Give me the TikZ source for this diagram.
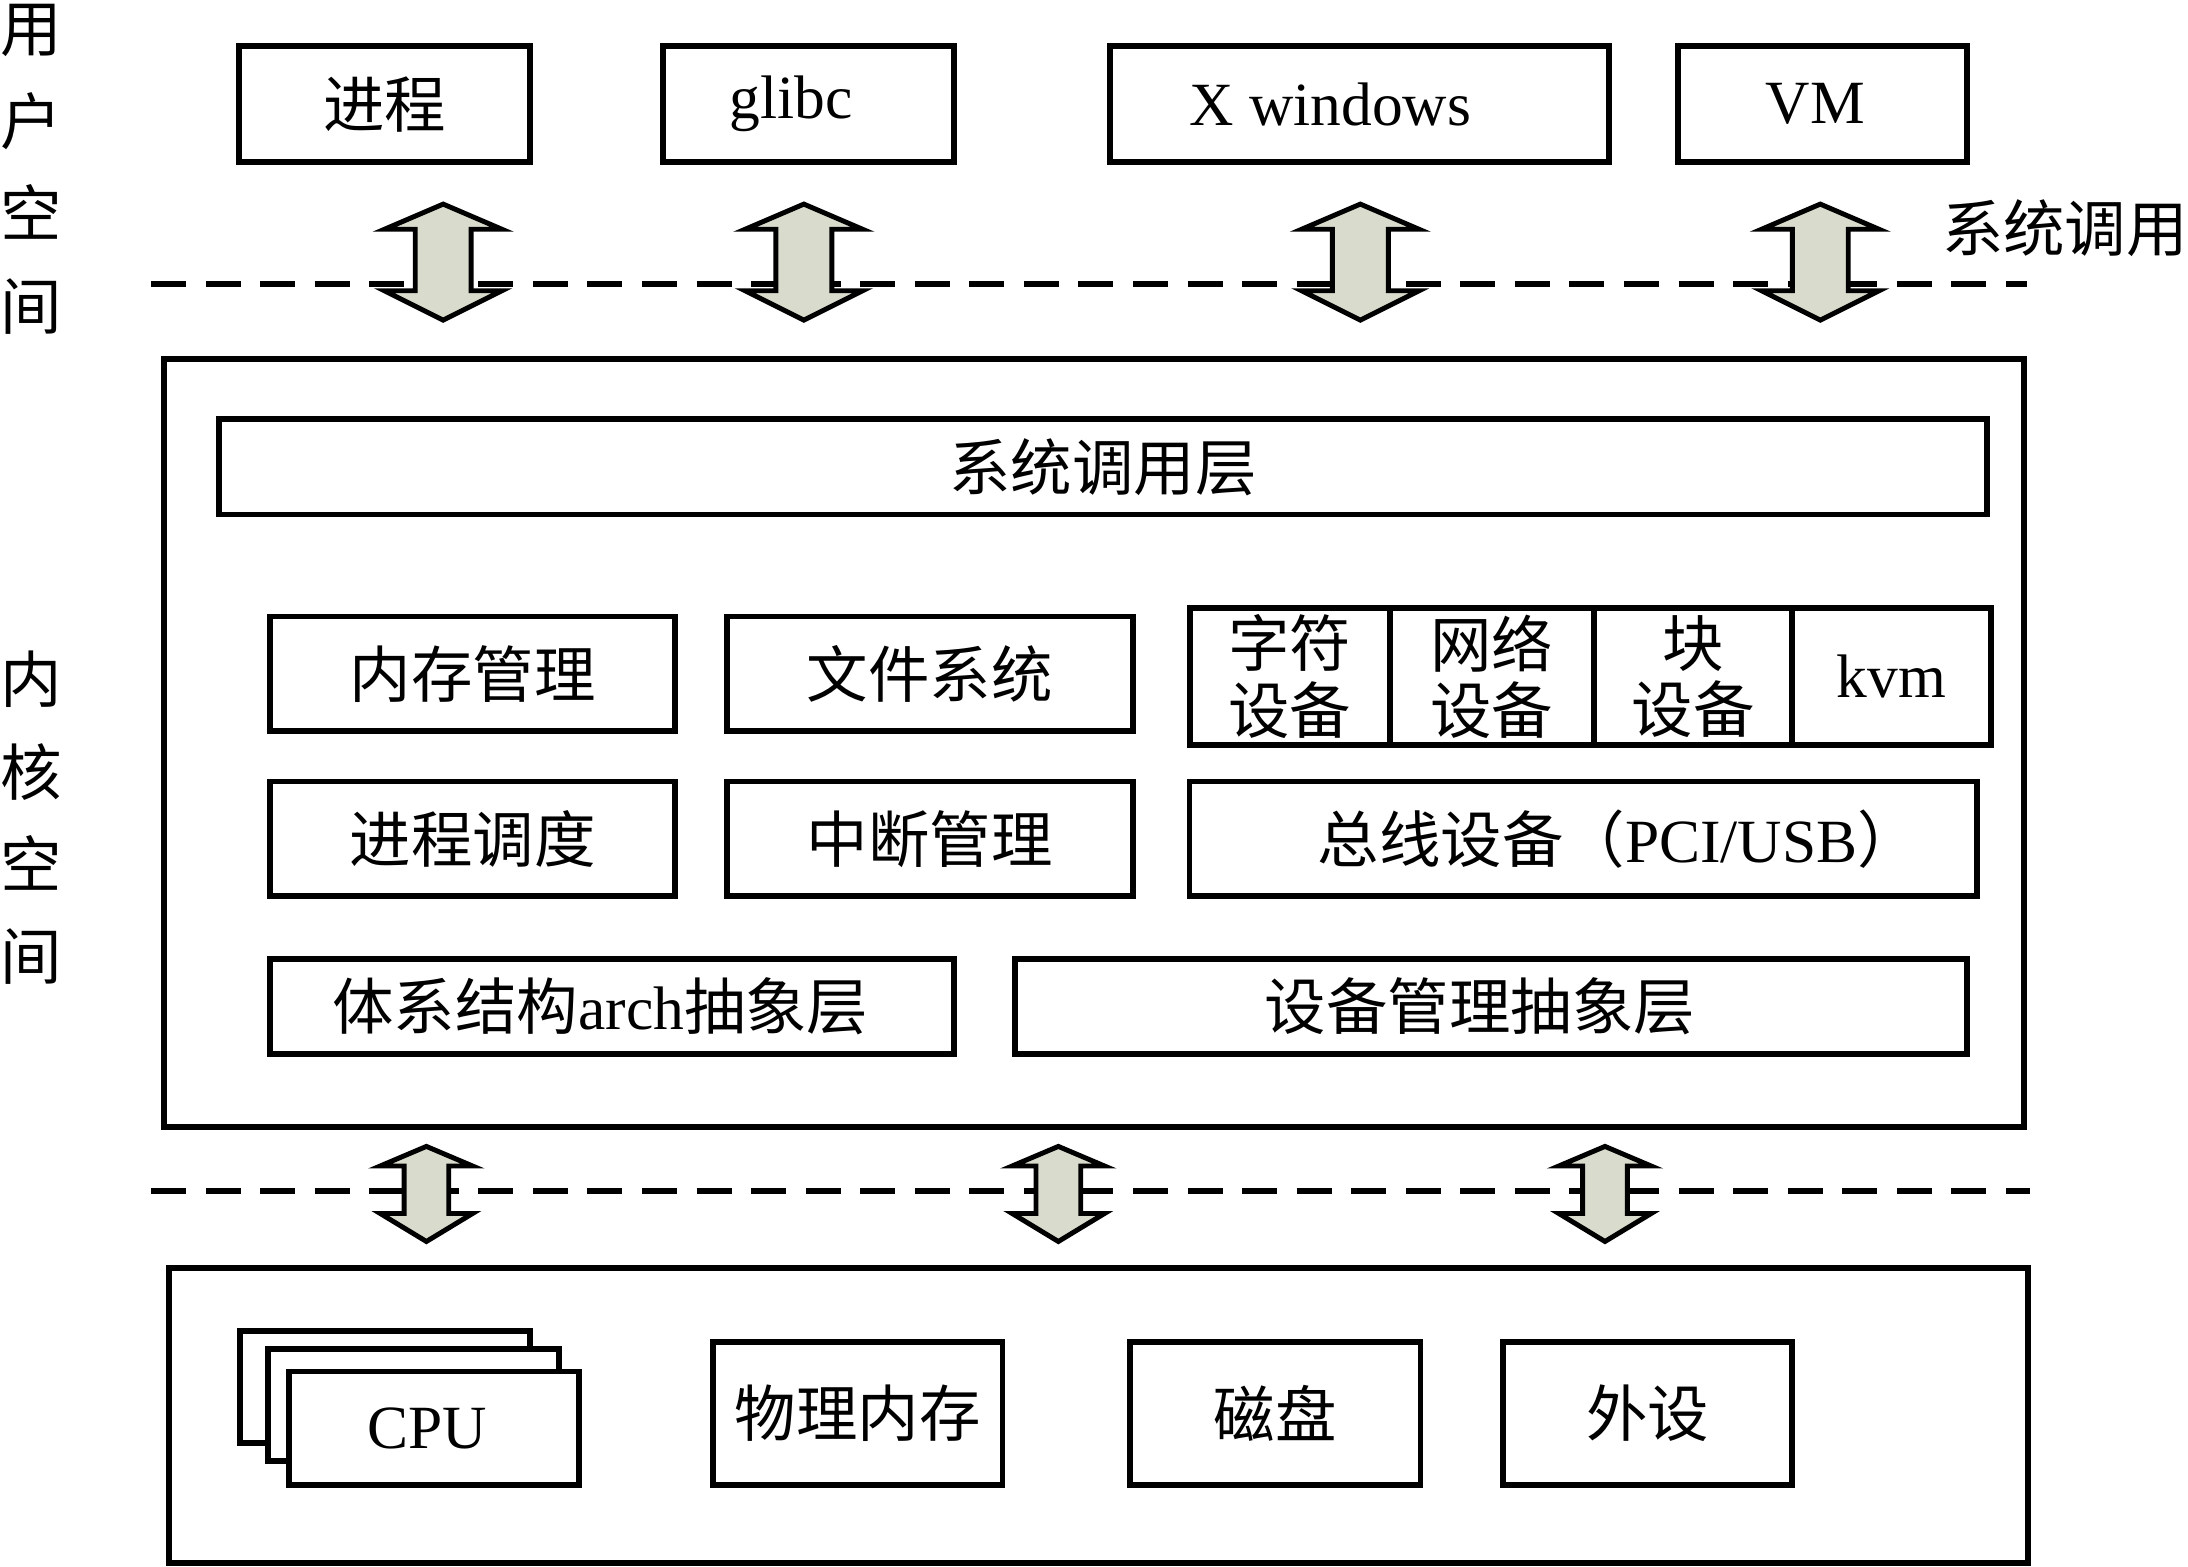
\documentclass[tikz,border=0pt]{standalone}
\usepackage{fontspec}
\setmainfont{Liberation Serif}
\newfontfamily\cjk{Noto Sans CJK SC}
\definecolor{arrowfill}{HTML}{D9DCCC}
% block arrow: x, top, bottom, half head, half shaft, top head, bottom head
\newcommand{\updown}[7]{%
	\draw[line width=1pt, fill=arrowfill, line join=miter] (#1,#2) -- ({#1+#4},{#2+#6}) -- ({#1+#5},{#2+#6}) -- ({#1+#5},{#3-#7}) -- ({#1+#4},{#3-#7}) -- (#1,#3) -- ({#1-#4},{#3-#7}) -- ({#1-#5},{#3-#7}) -- ({#1-#5},{#2+#6}) -- ({#1-#4},{#2+#6}) -- cycle;}
\begin{document}
\begin{tikzpicture}[x=0.01cm, y=-0.01cm,
		box/.style={draw, line width=1.2pt, inner sep=0pt, align=center, font=\fontsize{12.5}{13.5}\selectfont},
		cbox/.style={box, font=\cjk\fontsize{12.5}{13.5}\selectfont},
		sidetext/.style={inner sep=0pt, align=center, font=\cjk\fontsize{12.5}{18.8}\selectfont},
		layerline/.style={line width=1.2pt, dash pattern=on 0.25cm off 0.14cm}]
		\useasboundingbox (0,0) rectangle (1565,1120.8);

		\node[sidetext] (userspace) at (22,121) {用\\户\\空\\间};
		\node[sidetext] (kernelspace) at (22,585) {内\\核\\空\\间};
		\node[sidetext] (sclabel) at (1477,163) {系统调用};

		\node[cbox, minimum width=2.08cm, minimum height=0.83cm] (proc) at (275,74.5) {进程};
		\node[box, minimum width=2.08cm, minimum height=0.83cm] (glibc) at (578,74.5) {glibc\hspace{0.24cm}};
		\node[box, minimum width=3.57cm, minimum height=0.83cm] (xwin) at (972.5,74.5) {X windows\hspace{0.42cm}};
		\node[box, minimum width=2.07cm, minimum height=0.83cm] (vm) at (1303.5,74.5) {VM\hspace{0.1cm}};

		\draw[layerline] (108,203) -- (1450,203);
		\updown{317}{146}{229}{42}{20}{18}{21}
		\updown{575}{146}{229}{42}{20}{18}{21}
		\updown{973}{146}{229}{42}{20}{18}{21}
		\updown{1302}{146}{229}{42}{20}{18}{21}

		\node[box, minimum width=13.29cm, minimum height=5.49cm] (kernel) at (782.5,531.5) {};
		\node[cbox, minimum width=12.64cm, minimum height=0.68cm] (sclayer) at (789,334) {系统调用层};
		\node[cbox, minimum width=2.90cm, minimum height=0.82cm] (mem) at (338,482) {内存管理};
		\node[cbox, minimum width=2.90cm, minimum height=0.82cm] (fs) at (665,482) {文件系统};
		\node[cbox, minimum width=1.43cm, minimum height=0.98cm] (chardev) at (922.5,484) {字符\\设备};
		\node[cbox, minimum width=1.46cm, minimum height=0.98cm] (netdev) at (1067,484) {网络\\设备};
		\node[cbox, minimum width=1.42cm, minimum height=0.98cm] (blkdev) at (1211,484) {块\\设备};
		\node[box, minimum width=1.42cm, minimum height=0.98cm] (kvm) at (1353,484) {kvm};
		\node[cbox, minimum width=2.90cm, minimum height=0.82cm] (sched) at (338,600) {进程调度};
		\node[cbox, minimum width=2.90cm, minimum height=0.82cm] (irq) at (665,600) {中断管理};
		\node[box, minimum width=5.63cm, minimum height=0.82cm] (bus) at (1132.5,600) {\hspace{0.5cm}{\cjk 总线设备（}PCI/USB{\cjk ）}};
		\node[box, minimum width=4.89cm, minimum height=0.68cm] (arch) at (437.5,720) {{\cjk 体系结构}arch{\cjk 抽象层}\hspace{0.16cm}};
		\node[cbox, minimum width=6.81cm, minimum height=0.68cm] (devabs) at (1066.5,720) {设备管理抽象层\hspace{0.16cm}};

		\draw[layerline] (108,852) -- (1452,852);
		\updown{305}{820}{888}{33}{16}{14}{20}
		\updown{757}{820}{888}{33}{16}{14}{20}
		\updown{1148}{820}{888}{33}{16}{14}{20}

		\node[box, minimum width=13.29cm, minimum height=2.11cm] (hw) at (785.5,1012.5) {};
		\node[box, fill=white, minimum width=2.07cm, minimum height=0.80cm] (cpuback) at (275.5,992) {};
		\node[box, fill=white, minimum width=2.08cm, minimum height=0.80cm] (cpumid) at (296,1005) {};
		\node[box, fill=white, minimum width=2.07cm, minimum height=0.81cm] (cpu) at (310.5,1021.5) {CPU\hspace{0.1cm}};
		\node[cbox, minimum width=2.07cm, minimum height=1.02cm] (phymem) at (613.5,1011) {物理内存};
		\node[cbox, minimum width=2.08cm, minimum height=1.02cm] (disk) at (912,1011) {磁盘};
		\node[cbox, minimum width=2.07cm, minimum height=1.02cm] (periph) at (1178.5,1011) {外设};
	\end{tikzpicture}
\end{document}
